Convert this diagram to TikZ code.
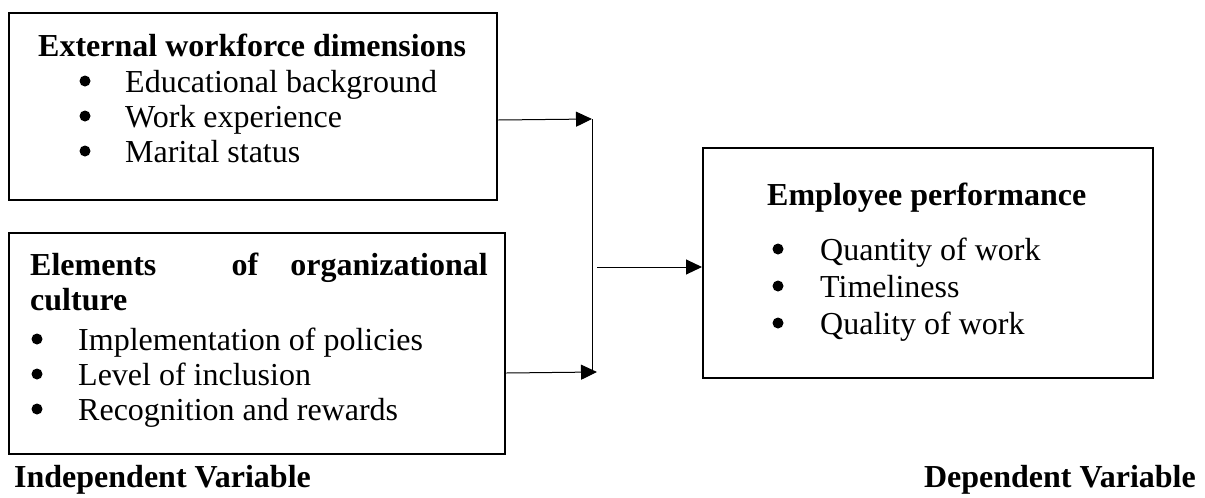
\documentclass[tikz,border=0pt]{standalone}
\usepackage{fontspec}
\setmainfont{Liberation Serif}
\usetikzlibrary{arrows.meta}
\begin{document}
\begin{tikzpicture}[x=1pt,y=-1pt,
  box/.style={draw=black,line width=2.4pt,anchor=north west,inner sep=0pt},
  txt/.style={anchor=base west,inner sep=0pt,font=\fontsize{32}{35}\selectfont},
  btxt/.style={txt,font=\fontsize{32}{35}\selectfont\bfseries},
  blt/.style={circle,fill=black,inner sep=0pt,minimum size=11pt},
  conn/.style={line width=1pt},
  arr/.style={conn,-{Triangle[length=16pt,width=15pt]}}]
\useasboundingbox (0,0) rectangle (1205,498);
% boxes
\node[box,minimum width=488pt,minimum height=187pt] (b1) at (8,12) {};
\node[box,minimum width=496pt,minimum height=221pt] (b2) at (8,232) {};
\node[box,minimum width=450pt,minimum height=230pt] (b3) at (702,147) {};
% box 1 text
\node[btxt] (t1) at (38,56) {External workforce dimensions};
\node[blt] (d11) at (85,81) {};
\node[txt] (i11) at (125,92) {Educational background};
\node[blt] (d12) at (85,116) {};
\node[txt] (i12) at (125,127) {Work experience};
\node[blt] (d13) at (85,151) {};
\node[txt] (i13) at (125,162) {Marital status};
% box 2 text
\node[btxt] (t2a) at (30,275) {Elements};
\node[btxt,anchor=base] (t2b) at (245,275) {of};
\node[btxt,anchor=base east] (t2c) at (488,275) {organizational};
\node[btxt] (t2d) at (30,310) {culture};
\node[blt] (d21) at (37,339) {};
\node[txt] (i21) at (78,350) {Implementation of policies};
\node[blt] (d22) at (37,374) {};
\node[txt] (i22) at (78,385) {Level of inclusion};
\node[blt] (d23) at (37,409) {};
\node[txt] (i23) at (78,420) {Recognition and rewards};
% box 3 text
\node[btxt] (t3) at (767,205) {Employee performance};
\node[blt] (d31) at (778,249) {};
\node[txt] (i31) at (820,260) {Quantity of work};
\node[blt] (d32) at (778,286) {};
\node[txt] (i32) at (820,297) {Timeliness};
\node[blt] (d33) at (778,323) {};
\node[txt] (i33) at (820,334) {Quality of work};
% captions
\node[btxt] (c1) at (14,487) {Independent Variable};
\node[btxt,anchor=base east] (c2) at (1196,487) {Dependent Variable};
% connectors
\coordinate (j1) at (592,119);
\coordinate (j2) at (597,372);
\coordinate (jv) at (592,372);
\coordinate (jm) at (597,267);
\draw[arr] (b1.east |- 0,120) -- (j1);
\draw[arr] (b2.east |- 0,373) -- (j2);
\draw[conn] (j1) -- (jv);
\draw[arr] (jm) -- (b3.west |- jm);
\end{tikzpicture}
\end{document}
